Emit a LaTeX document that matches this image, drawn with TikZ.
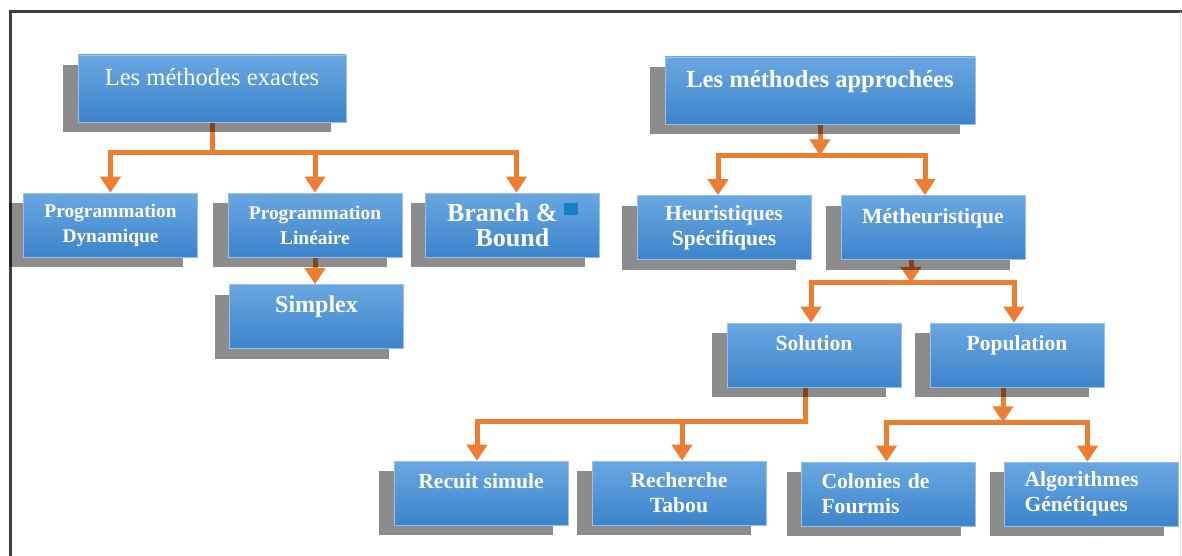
\documentclass[tikz,border=0pt]{standalone}
\usepackage{fontspec}
\setmainfont{Liberation Serif}
\usetikzlibrary{arrows.meta,shadows,backgrounds,calc}

\definecolor{boxtop}{HTML}{6AA7E1}
\definecolor{boxbot}{HTML}{3C84CB}
\definecolor{arrorange}{HTML}{ED7D31}
\definecolor{sqblue}{HTML}{1580C8}
\definecolor{framegray}{HTML}{404040}

\tikzset{
  blk/.style={rectangle, top color=boxtop, bottom color=boxbot, draw=boxtop!70!white, line width=0.3pt,
    minimum width=87pt, minimum height=32pt, inner sep=0pt, align=center, text=white,
    font=\fontsize{10.8}{12.5}\selectfont\bfseries,
    drop shadow={shadow xshift=-7.5pt, shadow yshift=-5pt, fill=black, opacity=0.45}},
  oneline/.style={text depth=12pt},
  conn/.style={draw=arrorange, line width=2.5pt},
  arr/.style={conn, -{Triangle[width=10pt,length=8pt]}},
}

\begin{document}
\begin{tikzpicture}[x=0.5pt, y=-0.5pt]
    \useasboundingbox (0,0) rectangle (1182,556);
    \draw[framegray, line width=1.5pt] (10,556) -- (10,12) -- (1182,12);
    \draw[gray!25, line width=0.5pt] (1180.5,12) -- (1180.5,556);

    % exact methods
    \node[blk, oneline, minimum width=134pt, minimum height=33.5pt, font=\fontsize{12.3}{14}\selectfont] (exa) at (212,88.5) {Les méthodes exactes};
    \node[blk, font=\fontsize{9.7}{12.5}\selectfont\bfseries] (dyn) at (110.5,225) {Programmation\\Dynamique};
    \node[blk, font=\fontsize{9.7}{12.5}\selectfont\bfseries] (lin) at (315,225) {Programmation\\Linéaire};
    \node[blk, font=\fontsize{13}{12.5}\selectfont\bfseries] (bnb) at (512.5,225) {Branch \& \raisebox{3pt}{\textcolor{sqblue}{\rule{7pt}{6pt}}}\\Bound};
    \node[blk, oneline, font=\fontsize{12}{14}\selectfont\bfseries] (spx) at (316.5,316.5) {Simplex};

    % approximate methods
    \node[blk, oneline, minimum width=155pt, minimum height=33.5pt, font=\fontsize{12.3}{14}\selectfont\bfseries] (app) at (820,90.5) {Les méthodes approchées};
    \node[blk] (heu) at (724,227.5) {Heuristiques\\Spécifiques};
    \node[blk, oneline, minimum width=92pt] (met) at (933,227.5) {Métheuristique};
    \node[blk, oneline] (sol) at (814,355) {Solution};
    \node[blk, oneline] (pop) at (1017,355) {Population};
    \node[blk, oneline] (rec) at (481,493) {Recuit simule};
    \node[blk] (tab) at (679,493) {Recherche\\Tabou};
    \node[blk, align=left, text width=67pt, inner xsep=10pt] (col) at (888.5,494) {Colonies de\\Fourmis};
    \node[blk, align=left, text width=67pt, inner xsep=10pt] (alg) at (1091.5,494) {Algorithmes\\Génétiques};

    \begin{scope}[on background layer]
      \coordinate (ex-bar) at ($(exa.south)+(0,30)$);
      \draw[conn] (exa.south) -- (ex-bar);
      \draw[arr] (ex-bar) -| (dyn.north);
      \draw[arr] (ex-bar) -| (lin.north);
      \draw[arr] (ex-bar) -| ([xshift=2pt]bnb.north);
      \draw[arr] (lin.south) -- (lin.south |- spx.north);

      \coordinate (ap-bar) at ($(app.south)+(0,31)$);
      \draw[arr] (app.south) -- (ap-bar);
      \draw[arr] (ap-bar) -| ([xshift=-3pt]heu.north);
      \draw[arr] (ap-bar) -| ([xshift=-4pt]met.north);

      \coordinate (me-bar) at ($([xshift=-11pt]met.south)+(0,23)$);
      \draw[arr] ([xshift=-11pt]met.south) -- (me-bar);
      \draw[arr] (me-bar) -| ([xshift=-1.5pt]sol.north);
      \draw[arr] (me-bar) -| ([xshift=-1.5pt]pop.north);

      \coordinate (so-bar) at ($([xshift=-4.5pt]sol.south)+(0,34)$);
      \draw[arr] ([xshift=-4.5pt]sol.south) -- (so-bar) -| ([xshift=-2pt]rec.north);
      \draw[arr] (so-bar) -| ([xshift=1.5pt]tab.north);

      \coordinate (po-bar) at ($([xshift=-7pt]pop.south)+(0,35)$);
      \draw[arr] ([xshift=-7pt]pop.south) -- (po-bar);
      \draw[arr] (po-bar) -| ([xshift=-1pt]col.north);
      \draw[arr] (po-bar) -| ([xshift=-2pt]alg.north);
    \end{scope}
\end{tikzpicture}
\end{document}
